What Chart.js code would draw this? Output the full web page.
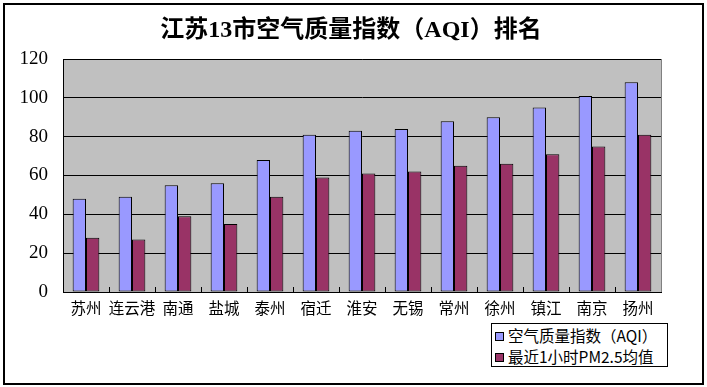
<!DOCTYPE html>
<html>
<head>
<meta charset="utf-8">
<script src="https://cdn.jsdelivr.net/npm/chart.js@4/dist/chart.umd.min.js"></script>
<style>
  html, body { margin: 0; padding: 0; background: #fff; }
  #wrap { position: relative; width: 707px; height: 387px; overflow: hidden; }
  #frame { position: absolute; left: 3px; top: 3px; width: 701px; height: 382px; border: 2px solid #000; box-sizing: border-box; pointer-events: none; }
  canvas { position: absolute; left: 0; top: 0; }
  #title { position: absolute; left: 0; top: 14px; width: 702px; text-align: center; font-family: "Liberation Serif", "Noto Sans CJK SC", serif; font-weight: bold; font-size: 24px; line-height: 30px; color: #000; }
  #legend { position: absolute; left: 491px; top: 323px; width: 177px; height: 44px; border: 1px solid #000; box-sizing: border-box; background: #fff; padding-top: 1px; }
  .li { position: relative; height: 21px; line-height: 21px; font-family: "Noto Sans CJK SC", sans-serif; font-size: 15.5px; color: #000; padding-left: 16px; white-space: nowrap; }
  .sw { position: absolute; left: 3px; top: 7px; width: 7px; height: 7px; border: 1px solid #000; }
</style>
</head>
<body>
<div id="wrap">
  <canvas id="c" width="707" height="387"></canvas>
  <div id="title">江苏13市空气质量指数（AQI）排名</div>
  <div id="legend"></div>
  <div id="frame"></div>
</div>
<script>
const categories = ['苏州','连云港','南通','盐城','泰州','宿迁','淮安','无锡','常州','徐州','镇江','南京','扬州'];
const aqiValues = [48, 49, 55, 56, 68, 81, 83, 84, 88, 90, 95, 101, 108];
const pm25Values = [28, 27, 39, 35, 49, 59, 61, 62, 65, 66, 71, 75, 81];
const seriesNames = ['空气质量指数（AQI）', '最近1小时PM2.5均值'];
const yTicks = [0, 20, 40, 60, 80, 100, 120];

const plotBg = {
  id: 'plotBg',
  beforeDraw(chart) {
    const a = chart.chartArea, ctx = chart.ctx;
    ctx.save();
    ctx.fillStyle = '#C0C0C0';
    ctx.fillRect(a.left, a.top, a.right - a.left, a.bottom - a.top);
    ctx.strokeStyle = '#808080';
    ctx.lineWidth = 1;
    ctx.strokeRect(Math.round(a.left) + 0.5, Math.round(a.top) + 0.5, Math.round(a.right - a.left), Math.round(a.bottom - a.top));
    ctx.restore();
  },
  afterDatasetsDraw(chart) {
    // inward category separator ticks on the x axis
    const x = chart.scales.x, a = chart.chartArea, ctx = chart.ctx;
    const n = categories.length;
    ctx.save();
    ctx.strokeStyle = '#000';
    ctx.lineWidth = 1;
    ctx.beginPath();
    for (let i = 1; i < n; i++) {
      const px = Math.round((x.getPixelForValue(i - 1) + x.getPixelForValue(i)) / 2) + 0.5;
      ctx.moveTo(px, a.bottom - 5);
      ctx.lineTo(px, a.bottom);
    }
    ctx.stroke();
    ctx.restore();
  }
};

const chart = new Chart(document.getElementById('c'), {
  type: 'bar',
  data: {
    labels: categories,
    datasets: [
      { label: seriesNames[0], data: aqiValues, backgroundColor: '#9999FF', borderColor: '#000', borderWidth: 1, borderSkipped: false },
      { label: seriesNames[1], data: pm25Values, backgroundColor: '#993366', borderColor: '#000', borderWidth: 1, borderSkipped: false }
    ]
  },
  options: {
    responsive: false,
    animation: false,
    devicePixelRatio: 1,
    layout: { padding: { left: 0, top: 59, right: 46, bottom: 0 } },
    datasets: { bar: { categoryPercentage: 0.58, barPercentage: 1.0 } },
    plugins: { legend: { display: false }, title: { display: false }, tooltip: { enabled: false } },
    scales: {
      x: {
        grid: { display: false, drawTicks: false },
        border: { display: true, color: '#000', width: 1 },
        ticks: { color: '#000', padding: 7, font: { family: '"Noto Sans CJK SC", sans-serif', size: 15.5 }, maxRotation: 0, autoSkip: false },
        afterFit(s) { s.height = 95; }
      },
      y: {
        min: 0, max: 120,
        afterBuildTicks(s) { s.ticks = yTicks.map(v => ({ value: v })); },
        grid: { color: '#000', lineWidth: 1, drawTicks: false },
        border: { display: true, color: '#000', width: 1 },
        ticks: { color: '#000', padding: 15, font: { family: '"Liberation Serif", serif', size: 19 } },
        afterFit(s) { s.width = 63; }
      }
    }
  },
  plugins: [plotBg]
});

// HTML legend built from chart datasets
const legendEl = document.getElementById('legend');
chart.data.datasets.forEach(ds => {
  const row = document.createElement('div');
  row.className = 'li';
  const sw = document.createElement('span');
  sw.className = 'sw';
  sw.style.background = ds.backgroundColor;
  row.appendChild(sw);
  row.appendChild(document.createTextNode(ds.label));
  legendEl.appendChild(row);
});
</script>
</body>
</html>
